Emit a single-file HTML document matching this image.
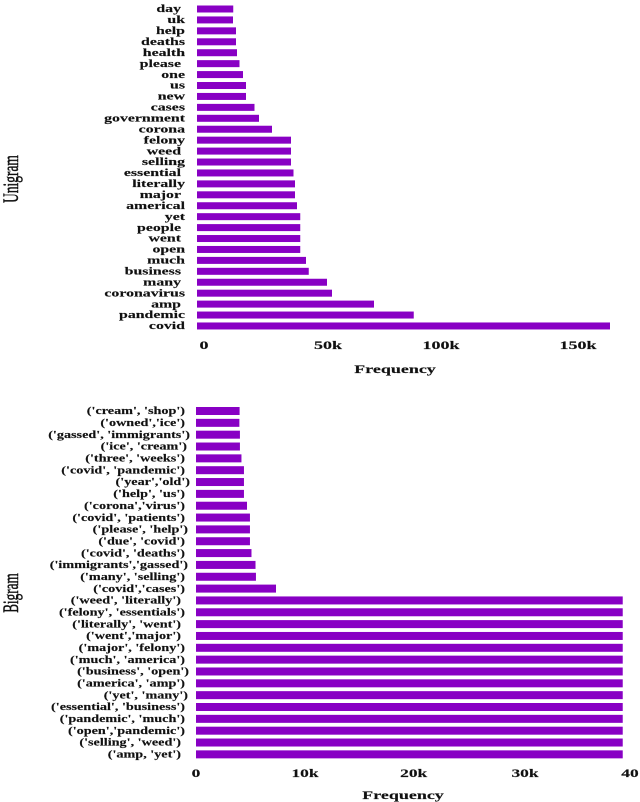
<!DOCTYPE html>
<html lang="en">
<head>
<meta charset="utf-8">
<title>Unigram and Bigram Frequency</title>
<style>
html,body{margin:0;padding:0;background:#fff;}
#stage{display:block;width:640px;height:802px;filter:blur(0.35px);}
text{font-family:"Liberation Serif",serif;fill:#111;}
.lab{font-weight:bold;font-size:11px;stroke:#111;stroke-width:0.15px;}
.tick{font-weight:bold;font-size:12px;stroke:#111;stroke-width:0.15px;}
.xt{font-weight:bold;font-size:12px;stroke:#111;stroke-width:0.15px;}
.yt{font-size:22px;stroke:#111;stroke-width:0.5px;}
</style>
</head>
<body>
<svg id="stage" xmlns="http://www.w3.org/2000/svg" width="640" height="802" viewBox="0 0 640 802"></svg>
<script>
var uniCategories = ["day","uk","help","deaths","health","please","one","us","new","cases","government","corona","felony","weed","selling","essential","literally","major","americal","yet","people","went","open","much","business","many","coronavirus","amp","pandemic","covid"];
var uniValues = [14.5,14.4,15.6,15.6,16,17,18.4,19.6,19.6,23,24.8,30,37.6,37.6,37.6,38.6,39.2,39.2,40,41.3,41.3,41.3,41.3,43.6,44.7,52,54,70.8,86.7,165.2];
var uniTicks = [0,50,100,150];
var uniTickLabels = ["0","50k","100k","150k"];

var biCategories = ["('cream', 'shop')","('owned','ice')","('gassed', 'immigrants')","('ice', 'cream')","('three', 'weeks')","('covid', 'pandemic')","('year','old')","('help', 'us')","('corona','virus')","('covid', 'patients')","('please', 'help')","('due', 'covid')","('covid', 'deaths')","('immigrants','gassed')","('many', 'selling')","('covid','cases')","('weed', 'literally')","('felony', 'essentials')","('literally', 'went')","('went','major')","('major', 'felony')","('much', 'america')","('business', 'open')","('america', 'amp')","('yet', 'many')","('essential', 'business')","('pandemic', 'much')","('open','pandemic')","('selling', 'weed')","('amp, 'yet')"];
var biValues = [4.0,3.98,4.03,4.03,4.17,4.4,4.4,4.4,4.68,4.95,4.95,4.95,5.09,5.46,5.5,7.34,39.15,39.15,39.15,39.15,39.15,39.15,39.15,39.15,39.15,39.15,39.15,39.15,39.15,39.15];
var biTicks = [0,10,20,30,40];
var biTickLabels = ["0","10k","20k","30k","40"];

var NS = "http://www.w3.org/2000/svg";
var svg = document.getElementById("stage");
var BAR_COLOR = "#8800c4";

/* Right-edge label offsets seen in the reference, keyed by row index. */
var uniLabelShift = {0:-4,5:-4,13:-4,15:-4,17:-4,20:-4,21:-4,24:-4,25:-4,27:-4};
var biLabelShift = {2:5,3:2,6:5,10:3,13:3,16:-4,18:-4,19:-4,22:4,24:3,28:-4,29:-4};
var uniTickShift = {0:7,1:6,2:-6,3:6};
var biTickShift = {0:0,1:0,2:-0.3,3:2,4:-2};

function addText(str, cls, tx, ty, sx, sy, anchor, rot) {
  var t = document.createElementNS(NS, "text");
  t.setAttribute("class", cls);
  t.setAttribute("text-anchor", anchor);
  t.setAttribute("transform", "translate(" + tx + "," + ty + ")" + (rot ? " rotate(" + rot + ")" : "") + " scale(" + sx + "," + sy + ")");
  t.textContent = str;
  svg.appendChild(t);
  return t;
}

function drawChart(cfg) {
  function xScale(v) { return cfg.x0 + v * cfg.pxPerUnit; }
  function yScale(i) { return cfg.yFirst + i * cfg.yStep; }
  cfg.categories.forEach(function (name, i) {
    var r = document.createElementNS(NS, "rect");
    
    
    r.setAttribute("x", xScale(0));
    r.setAttribute("y", yScale(i) - cfg.barH / 2);
    r.setAttribute("width", xScale(cfg.values[i]) - xScale(0));
    r.setAttribute("height", cfg.barH);
    r.setAttribute("fill", BAR_COLOR);
    svg.appendChild(r);
    var l = addText(name, "lab", cfg.labelRight + (cfg.labelShift[i] || 0), yScale(i) + 3.2, cfg.labelScale, 1, "end");
    
    
  });
  cfg.ticks.forEach(function (v, i) {
    var t = addText(cfg.tickLabels[i], "tick", xScale(v) + (cfg.tickShift[i] || 0), cfg.tickY, cfg.tickScale, 1, "middle");
    
    
  });
}

drawChart({
  categories: uniCategories, values: uniValues, ticks: uniTicks, tickLabels: uniTickLabels,
  x0: 197, pxPerUnit: 2.5, yFirst: 9, yStep: 10.93, barH: 7,
  labelRight: 185, labelShift: uniLabelShift, labelScale: 1.44,
  tickY: 349, tickScale: 1.5, tickShift: uniTickShift
});
drawChart({
  categories: biCategories, values: biValues, ticks: biTicks, tickLabels: biTickLabels,
  x0: 196, pxPerUnit: 10.9, yFirst: 411, yStep: 11.84, barH: 8,
  labelRight: 185, labelShift: biLabelShift, labelScale: 1.29,
  tickY: 777, tickScale: 1.45, tickShift: biTickShift
});

var xt1 = addText("Frequency", "xt", 395, 373, 1.5, 1, "middle");


var xt2 = addText("Frequency", "xt", 403, 799, 1.5, 1, "middle");


var yt1 = addText("Unigram", "yt", 18, 179, 0.61, 1, "middle", -90);


var yt2 = addText("Bigram", "yt", 18, 593, 0.6, 1, "middle", -90);


</script>
</body>
</html>
